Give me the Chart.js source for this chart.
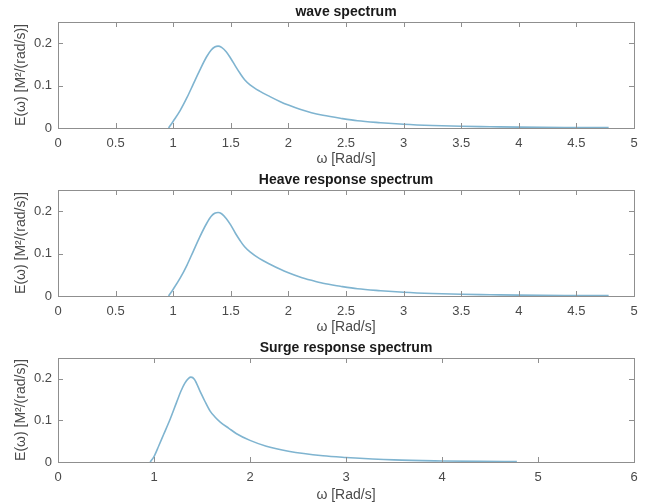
<!DOCTYPE html>
<html>
<head>
<meta charset="utf-8">
<script src="https://cdn.jsdelivr.net/npm/chart.js@4"></script>
<style>
  body { margin: 0; background: #fff; }
  .panel { position: absolute; left: 0; width: 648px; height: 168px; }
</style>
</head>
<body>
<div class="panel" style="top:0px"><canvas id="wave" width="648" height="168"></canvas></div>
<div class="panel" style="top:168px"><canvas id="heave" width="648" height="168"></canvas></div>
<div class="panel" style="top:336px"><canvas id="surge" width="648" height="168"></canvas></div>
<script>
// frequencies (rad/s)
const omega = [0.96, 1.0, 1.06, 1.12, 1.175, 1.23, 1.29, 1.33, 1.36, 1.39, 1.42, 1.46, 1.5, 1.54, 1.58, 1.62, 1.667, 1.75, 1.84, 1.93, 2.0, 2.1, 2.2, 2.3, 2.45, 2.6, 2.8, 3.0, 3.25, 3.5, 3.75, 4.0, 4.4, 4.78];
const waveE = [0, 0.016, 0.041, 0.072, 0.104, 0.136, 0.168, 0.184, 0.191, 0.193, 0.19, 0.18, 0.164, 0.146, 0.129, 0.114, 0.102, 0.087, 0.074, 0.062, 0.054, 0.044, 0.036, 0.030, 0.023, 0.017, 0.0125, 0.009, 0.006, 0.004, 0.003, 0.002, 0.0012, 0.0008];
const heaveE = [0, 0.016, 0.042, 0.073, 0.106, 0.139, 0.171, 0.188, 0.195, 0.197, 0.194, 0.183, 0.167, 0.148, 0.131, 0.116, 0.104, 0.088, 0.075, 0.063, 0.055, 0.045, 0.037, 0.030, 0.023, 0.017, 0.0125, 0.009, 0.006, 0.004, 0.003, 0.002, 0.0012, 0.0008];

// surge panel has its own sampling
const omegaSurge = [0.96, 1.0, 1.05, 1.1, 1.17, 1.236, 1.28, 1.32, 1.36, 1.385, 1.42, 1.48, 1.53, 1.583, 1.64, 1.69, 1.78, 1.86, 2.0, 2.17, 2.4, 2.76, 3.0, 3.5, 4.0, 4.4, 4.78];
const surgeE = [0, 0.013, 0.039, 0.066, 0.104, 0.144, 0.17, 0.189, 0.201, 0.204, 0.199, 0.17, 0.146, 0.123, 0.107, 0.096, 0.081, 0.068, 0.052, 0.038, 0.026, 0.015, 0.011, 0.005, 0.0025, 0.0015, 0.001];

// tick labels
const xTicksHalf = [0, 0.5, 1, 1.5, 2, 2.5, 3, 3.5, 4, 4.5, 5];
const xTicksOne = [0, 1, 2, 3, 4, 5, 6];
const yTicks = [0, 0.1, 0.2];

const titles = ["wave spectrum", "Heave response spectrum", "Surge response spectrum"];

const FONT = "'Liberation Sans', Arial, Helvetica, sans-serif";
const lineColor = "#7fb4d0";
const axisColor = "#8f8f8f";
const textColor = "#4a4a4a";

// matlab style box with inward ticks
const boxTicks = {
    id: "boxTicks",
    afterDraw(chart) {
        const { ctx, chartArea: a, scales } = chart;
        const x = scales.x, y = scales.y;
        ctx.save();
        ctx.strokeStyle = axisColor;
        ctx.lineWidth = 1;
        ctx.strokeRect(Math.round(a.left) + 0.5, Math.round(a.top) + 0.5, Math.round(a.right - a.left), Math.round(a.bottom - a.top));
        ctx.beginPath();
        x.ticks.forEach(t => {
            const px = Math.round(x.getPixelForValue(t.value)) + 0.5;
            ctx.moveTo(px, a.bottom); ctx.lineTo(px, a.bottom - 5);
            ctx.moveTo(px, a.top); ctx.lineTo(px, a.top + 5);
        });
        y.ticks.forEach(t => {
            const py = Math.round(y.getPixelForValue(t.value)) + 0.5;
            ctx.moveTo(a.left, py); ctx.lineTo(a.left + 5, py);
            ctx.moveTo(a.right, py); ctx.lineTo(a.right - 5, py);
        });
        ctx.stroke();
        ctx.restore();
    }
};

function makeChart(id, title, xs, ys, xMax, xTicks, xHeight) {
    const ctx = document.getElementById(id).getContext("2d");
    return new Chart(ctx, {
        type: "line",
        data: {
            datasets: [{
                data: xs.map((v, i) => ({ x: v, y: ys[i] })),
                borderColor: lineColor,
                borderWidth: 1.6,
                pointRadius: 0,
                cubicInterpolationMode: "monotone",
                fill: false
            }]
        },
        options: {
            responsive: false,
            animation: false,
            events: [],
            layout: { padding: { left: 0, right: 14, top: 0, bottom: 0 } },
            plugins: {
                legend: { display: false },
                tooltip: { enabled: false },
                title: {
                    display: true,
                    fullSize: false,
                    text: title,
                    color: "#1a1a1a",
                    font: { family: FONT, size: 14, weight: "bold" },
                    padding: { top: 4, bottom: 1.2 }
                }
            },
            scales: {
                x: {
                    type: "linear",
                    min: 0,
                    max: xMax,
                    afterBuildTicks: s => { s.ticks = xTicks.map(v => ({ value: v })); },
                    afterFit: s => { s.height = xHeight; },
                    grid: { display: false, drawTicks: false },
                    border: { display: false },
                    ticks: {
                        color: textColor,
                        font: { family: FONT, size: 13 },
                        padding: 7.5,
                        maxRotation: 0,
                        autoSkip: false,
                        callback: v => String(v)
                    },
                    title: {
                        display: true,
                        text: "ω [Rad/s]",
                        color: textColor,
                        font: { family: FONT, size: 14 },
                        padding: { top: 0, bottom: 0.8 }
                    }
                },
                y: {
                    min: 0,
                    max: 0.25,
                    afterBuildTicks: s => { s.ticks = yTicks.map(v => ({ value: v })); },
                    afterFit: s => { s.width = 58; },
                    grid: { display: false, drawTicks: false },
                    border: { display: false },
                    ticks: {
                        color: textColor,
                        font: { family: FONT, size: 13 },
                        padding: 6,
                        callback: v => String(v)
                    },
                    title: {
                        display: true,
                        text: "E(ω) [M²/(rad/s)]",
                        color: textColor,
                        font: { family: FONT, size: 14 },
                        padding: { top: 12.6, bottom: 0 }
                    }
                }
            }
        },
        plugins: [boxTicks]
    });
}

makeChart("wave", titles[0], omega, waveE, 5, xTicksHalf, 40);
makeChart("heave", titles[1], omega, heaveE, 5, xTicksHalf, 40);
makeChart("surge", titles[2], omegaSurge, surgeE, 6, xTicksOne, 42);
</script>
</body>
</html>
